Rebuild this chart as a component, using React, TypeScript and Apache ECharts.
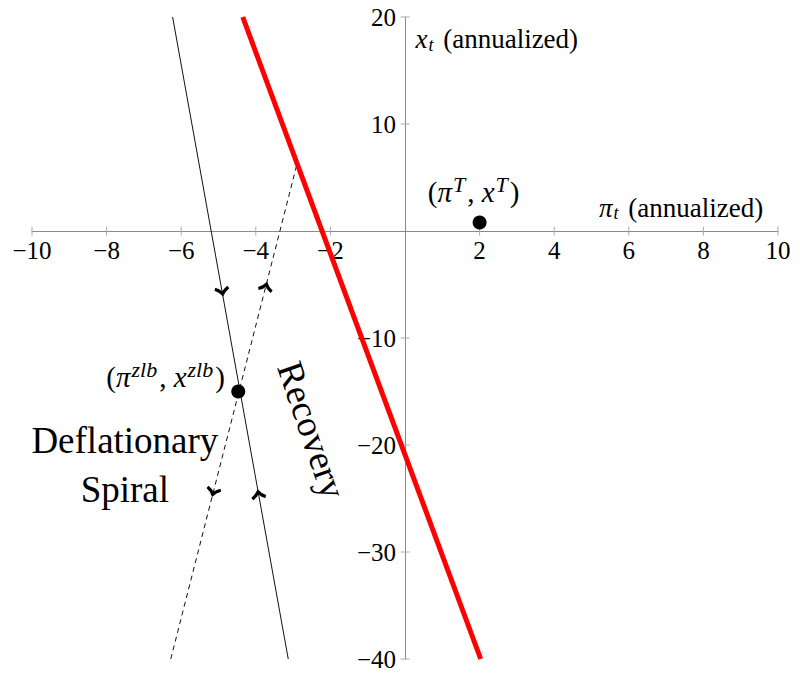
import React, { useEffect, useRef } from "react";
import * as echarts from "echarts";

// Axis ranges / ticks
const xTicks = [-10, -8, -6, -4, -2, 0, 2, 4, 6, 8, 10];
const yTicks = [-40, -30, -20, -10, 0, 10, 20];

// Lines (data coordinates: [pi_t, x_t])
const redLine = [
  [-4.35, 20],
  [2.03, -40],
];
const solidLine = [
  [-6.23, 20],
  [-3.13, -40],
];
const dashedLine = [
  [-6.28, -40],
  [-2.9, 6.2],
];

// Points
const targetPoint = [2, 0.8];
const zlbPoint = [-4.47, -15.0];

// Arrow heads on curves
const solidArrowDown = [-4.9, -5.67];
const solidArrowUp = [-3.93, -24.6];
const dashedArrowUp = [-3.73, -5.2];
const dashedArrowDown = [-5.14, -24.4];

const FONT = "Liberation Serif";
const ARROW = "path://M-7,-1.5 Q-3,0.5 0,5 Q3,0.5 7,-1.5 L5.8,-4 Q2,-2.4 0,0.2 Q-2,-2.4 -5.8,-4 Z";

const fmt = (v: number) => (v === 0 ? "" : v < 0 ? "\u2212" + Math.abs(v) : String(v));

export default function App() {
  const ref = useRef<HTMLDivElement>(null);
  useEffect(() => {
    if (!ref.current) return;
    const chart = echarts.init(ref.current, undefined, { renderer: "svg" });
    const axisLineColor = "#8a8a8a";
    const tickColor = "#aaaaaa";
    const arrowSeries = (pt: number[], rot: number) => ({
      type: "scatter",
      data: [pt],
      symbol: ARROW,
      symbolSize: [15, 10],
      symbolRotate: rot,
      itemStyle: { color: "#000", opacity: 1 },
      silent: true,
      z: 5,
    });
    const textItem = (pt: number[], label: any) => ({ value: pt, label });
    const xTickMarks = xTicks.filter((v) => v !== 0).map((v) => [v, 0]);
    const yTickMarks = yTicks.filter((v) => v !== 0).map((v) => [0, v]);
    const tickSeries = (marks: number[][], vertical: boolean) => ({
      type: "custom",
      data: marks,
      silent: true,
      clip: false,
      z: 2,
      renderItem: (_params: any, api: any) => {
        const vx = api.value(0);
        const vy = api.value(1);
        const p = api.coord([vx, vy]);
        const h = 4.5;
        return {
          type: "group",
          children: [
            {
              type: "line",
              shape: vertical
                ? { x1: p[0], y1: p[1] - h, x2: p[0], y2: p[1] + h }
                : { x1: p[0] - h, y1: p[1], x2: p[0] + h, y2: p[1] },
              style: { stroke: tickColor, lineWidth: 1 },
            },
            {
              type: "text",
              style: vertical
                ? {
                    text: fmt(vx),
                    x: p[0],
                    y: p[1] + 19,
                    align: "center",
                    verticalAlign: "middle",
                    fill: "#000",
                    font: `25px ${FONT}`,
                  }
                : {
                    text: fmt(vy),
                    x: p[0] - 9,
                    y: p[1],
                    align: "right",
                    verticalAlign: "middle",
                    fill: "#000",
                    font: `25px ${FONT}`,
                  },
            },
          ],
        };
      },
    });
    const annot = {
      it: { fontFamily: FONT, fontStyle: "italic", fontSize: 27, color: "#000" },
      sub: { fontFamily: FONT, fontStyle: "italic", fontSize: 18, color: "#000", padding: [11, 3, 0, 1] },
      rm: { fontFamily: FONT, fontSize: 27, color: "#000" },
    };
    const pointLbl = {
      it: { fontFamily: FONT, fontStyle: "italic", fontSize: 29, color: "#000" },
      sup: { fontFamily: FONT, fontStyle: "italic", fontSize: 22, color: "#000", padding: [0, 2, 15, 1] },
      rm: { fontFamily: FONT, fontSize: 29, color: "#000" },
    };
    chart.setOption({
      animation: false,
      grid: { left: 32, right: 22, top: 17, bottom: 20, containLabel: false, outerBoundsMode: "none" },
      xAxis: {
        type: "value",
        min: xTicks[0],
        max: xTicks[xTicks.length - 1],
        interval: 2,
        splitLine: { show: false },
        axisLine: { onZero: true, lineStyle: { color: axisLineColor, width: 1 } },
        axisTick: { show: false },
        axisLabel: { show: false },
      },
      yAxis: {
        type: "value",
        min: yTicks[0],
        max: yTicks[yTicks.length - 1],
        interval: 10,
        splitLine: { show: false },
        axisLine: { onZero: true, lineStyle: { color: axisLineColor, width: 1 } },
        axisTick: { show: false },
        axisLabel: { show: false },
      },
      series: [
        tickSeries(xTickMarks, true),
        tickSeries(yTickMarks, false),
        {
          type: "line",
          data: solidLine,
          showSymbol: false,
          lineStyle: { color: "#111", width: 1 },
          silent: true,
          z: 3,
        },
        {
          type: "line",
          data: dashedLine,
          showSymbol: false,
          lineStyle: { color: "#111", width: 1, type: [5, 4] },
          silent: true,
          z: 3,
        },
        {
          type: "line",
          data: redLine,
          showSymbol: false,
          lineStyle: { color: "#ff0000", width: 5 },
          silent: true,
          z: 4,
        },
        {
          type: "scatter",
          data: [targetPoint, zlbPoint],
          symbol: "circle",
          symbolSize: 14,
          itemStyle: { color: "#000", opacity: 1 },
          silent: true,
          z: 6,
        },
        arrowSeries(solidArrowDown, 10),
        arrowSeries(solidArrowUp, 190),
        arrowSeries(dashedArrowUp, 166),
        arrowSeries(dashedArrowDown, -14),
        {
          type: "scatter",
          symbolSize: 0,
          silent: true,
          itemStyle: { opacity: 1 },
          z: 7,
          data: [
            textItem([0.28, 17.9], {
              show: true,
              position: "right",
              distance: 0,
              formatter: "{it|x}{sub|t}{rm| (annualized)}",
              rich: annot,
            }),
            textItem([5.2, 2.15], {
              show: true,
              position: "right",
              distance: 0,
              formatter: "{it|π}{sub|t}{rm| (annualized)}",
              rich: annot,
            }),
            textItem([1.84, 3.6], {
              show: true,
              position: "inside",
              formatter: "{rm|(}{it|π}{sup|T}{rm|, }{it|x}{sup|T}{rm|)}",
              rich: pointLbl,
            }),
            textItem([-4.83, -13.6], {
              show: true,
              position: "left",
              distance: 0,
              formatter: "{rm|(}{it|π}{sup|zlb}{rm|, }{it|x}{sup|zlb}{rm|)}",
              rich: pointLbl,
            }),
            textItem([-7.51, -21.85], {
              show: true,
              position: "inside",
              formatter: "Deflationary\nSpiral",
              fontFamily: FONT,
              fontSize: 37,
              lineHeight: 49,
              align: "center",
              color: "#000",
            }),
            textItem([-2.5, -18.6], {
              show: true,
              position: "inside",
              formatter: "Recovery",
              fontFamily: FONT,
              fontSize: 37,
              rotate: -71,
              align: "center",
              verticalAlign: "middle",
              color: "#000",
            }),
          ],
        },
      ],
    });
    return () => chart.dispose();
  }, []);
  return (
    <div
      ref={ref}
      style={{ position: "absolute", left: 0, top: 0, width: 800, height: 679, background: "#fff" }}
    />
  );
}
